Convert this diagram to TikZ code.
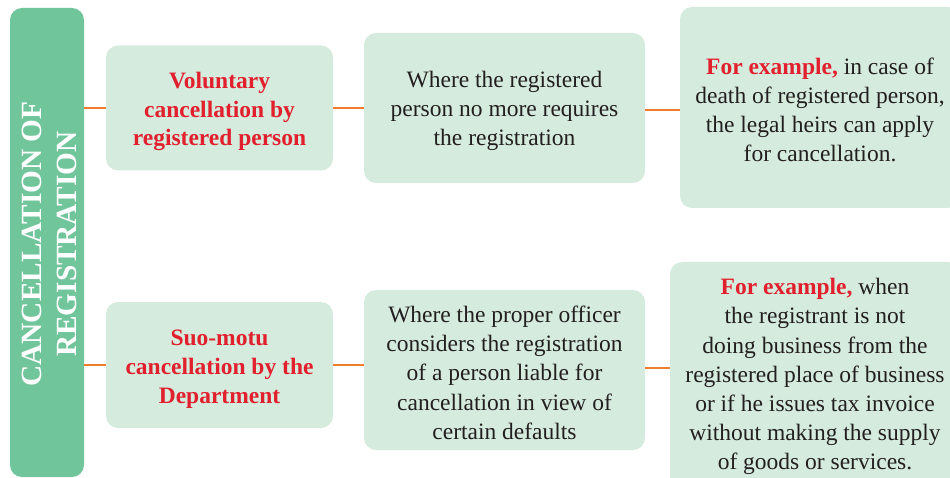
\documentclass[tikz,border=0pt]{standalone}
\usepackage{fontspec}
\setmainfont{Liberation Serif}
\definecolor{barGreen}{HTML}{71C59B}
\definecolor{boxGreen}{HTML}{D5EBDE}
\definecolor{linkOrange}{HTML}{EF7D2C}
\definecolor{hiRed}{HTML}{E21F2D}
\definecolor{bodyText}{HTML}{231F20}
\begin{document}
\begin{tikzpicture}[x=1pt,y=-1pt,
  card/.style={fill=boxGreen, draw=none, rounded corners=12pt, inner sep=0pt},
  cardtext/.style={inner sep=0pt, align=center, font=\fontsize{23.5}{29.1}\selectfont, text=bodyText},
  headtext/.style={cardtext, font=\fontsize{23.5}{28.9}\selectfont\bfseries, text=hiRed},
  link/.style={draw=linkOrange, line width=2pt}
]
\useasboundingbox (0,0) rectangle (950,478);
\clip (0,0) rectangle (950,478);

% vertical title bar
\node[fill=barGreen, rounded corners=12pt, minimum width=74pt, minimum height=469pt,
  inner sep=0pt] (bar) at (47,242.5) {};
\node[rotate=90, text=white, align=center, font=\fontsize{29.3}{35}\selectfont\bfseries]
  (title) at (49,244) {CANCELLATION OF\\REGISTRATION};

% upper row boxes
\node[card, minimum width=227pt, minimum height=125pt] (vol) at (219.5,108) {};
\node[card, minimum width=281pt, minimum height=150pt] (volwhy) at (504.5,108) {};
\node[card, minimum width=280pt, minimum height=201pt] (volex) at (820,107.5) {};

% lower row boxes
\node[card, minimum width=227pt, minimum height=126pt] (suo) at (219.5,365) {};
\node[card, minimum width=281pt, minimum height=160pt] (suowhy) at (504.5,370) {};
\node[card, minimum width=290pt, minimum height=230pt] (suoex) at (815,377) {};

% box texts
\node[headtext] (voltxt) at ([yshift=-3.5pt]vol.center)
  {Voluntary\\cancellation by\\registered person};
\node[cardtext] (volwhytxt) at ([yshift=-3pt]volwhy.center)
  {Where the registered\\person no more requires\\the registration};
\node[cardtext] (volextxt) at ([yshift=-2.3pt]volex.center)
  {{\color{hiRed}\bfseries For example,} in case of\\death of registered person,\\the legal heirs can apply\\for cancellation.};
\node[headtext] (suotxt) at ([yshift=-4.5pt]suo.center)
  {Suo-motu\\cancellation by the\\Department};
\node[cardtext] (suowhytxt) at ([yshift=-2.8pt]suowhy.center)
  {Where the proper officer\\considers the registration\\of a person liable for\\cancellation in view of\\certain defaults};
\node[cardtext] (suoextxt) at ([yshift=0.5pt]suoex.center)
  {{\color{hiRed}\bfseries For example,} when\\the registrant is not\\doing business from the\\registered place of business\\or if he issues tax invoice\\without making the supply\\of goods or services.};

% connectors
\draw[link] (bar.east |- vol.west) -- (vol.west);
\draw[link] (vol.east) -- (volwhy.west |- vol.east);
\draw[link] ([yshift=-2pt]volwhy.east) -- ([yshift=-2pt]volex.west |- volwhy.east);
\draw[link] (bar.east |- suo.west) -- (suo.west);
\draw[link] (suo.east) -- (suowhy.west |- suo.east);
\draw[link] ([yshift=2pt]suowhy.east) -- ([yshift=2pt]suoex.west |- suowhy.east);
\end{tikzpicture}
\end{document}
